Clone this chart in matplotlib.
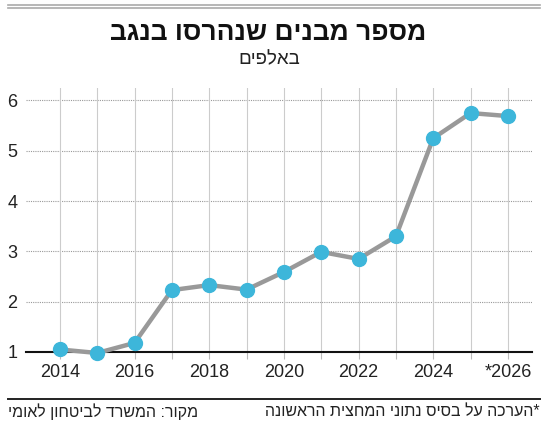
import matplotlib.pyplot as plt
from matplotlib.lines import Line2D

plt.rcParams['font.family'] = ['Liberation Sans', 'DejaVu Sans']

# נתונים - מספר מבנים שנהרסו בנגב (באלפים)
years = [2014, 2015, 2016, 2017, 2018, 2019, 2020, 2021, 2022, 2023, 2024, 2025, 2026]
values = [1.05, 0.98, 1.18, 2.23, 2.33, 2.24, 2.59, 2.99, 2.85, 3.30, 5.25, 5.75, 5.69]
xtick_years = [2014, 2016, 2018, 2020, 2022, 2024, 2026]
xtick_labels = ['2014', '2016', '2018', '2020', '2022', '2024', '*2026']
yticks = [1, 2, 3, 4, 5, 6]

title = 'מספר מבנים שנהרסו בנגב'
subtitle = 'באלפים'
source = 'מקור: המשרד לביטחון לאומי'
note = '*הערכה על בסיס נתוני המחצית הראשונה'


def rtl(s):
    # matplotlib מצייר משמאל לימין - הופכים את סדר האותיות
    return s[::-1]


fig = plt.figure(figsize=(5.5, 4.28), dpi=100)
ax = fig.add_axes([0.047, 0.1776, 0.92, 0.617])

ax.plot(years, values, color='#999999', lw=3.2, zorder=3, solid_capstyle='round',
        marker='o', ms=10, mfc='#3db6da', mec='#3db6da', clip_on=False)

ax.set_xlim(2013.09, 2026.64)
ax.set_ylim(1, 6.25)
ax.set_yticks(yticks)
ax.set_yticklabels([str(v) for v in yticks], fontsize=13, color='#222222')
ax.set_xticks(years)
ax.set_xticklabels([xtick_labels[xtick_years.index(y)] if y in xtick_years else '' for y in years],
                   fontsize=13, color='#222222')
ax.tick_params(axis='y', length=0, pad=6)
ax.tick_params(axis='x', length=5, color='#bbbbbb', width=0.8, pad=4)

for y in yticks[1:]:
    ax.axhline(y, color='#999999', lw=0.8, ls=(0, (1, 1)), zorder=1)
for y in years:
    ax.axvline(y, color='#cccccc', lw=0.8, zorder=1)

for s in ['top', 'right', 'left']:
    ax.spines[s].set_visible(False)
ax.spines['bottom'].set_color('#111111')
ax.spines['bottom'].set_linewidth(1.5)
ax.spines['bottom'].set_zorder(2)

# קווים עליונים ותחתונים
fig.add_artist(Line2D([0.015, 0.982], [1 - 4.5 / 428] * 2, color='#aaaaaa', lw=1.2))
fig.add_artist(Line2D([0.015, 0.982], [1 - 7.5 / 428] * 2, color='#aaaaaa', lw=1.2))
fig.add_artist(Line2D([0.015, 0.982], [1 - 399 / 428] * 2, color='#222222', lw=1.4))

fig.text(0.488, 1 - 33 / 428, rtl(title), ha='center', va='center', fontsize=19,
         fontweight='bold', color='#111111')
fig.text(0.49, 1 - 60 / 428, rtl(subtitle), ha='center', va='center', fontsize=13.5,
         color='#222222')
fig.text(0.015, 1 - 412 / 428, rtl(source), ha='left', va='center', fontsize=11.5,
         color='#222222')
fig.text(0.982, 1 - 412 / 428, rtl(note), ha='right', va='center', fontsize=11.5,
         color='#222222')

fig.savefig('out.png', dpi=100)
